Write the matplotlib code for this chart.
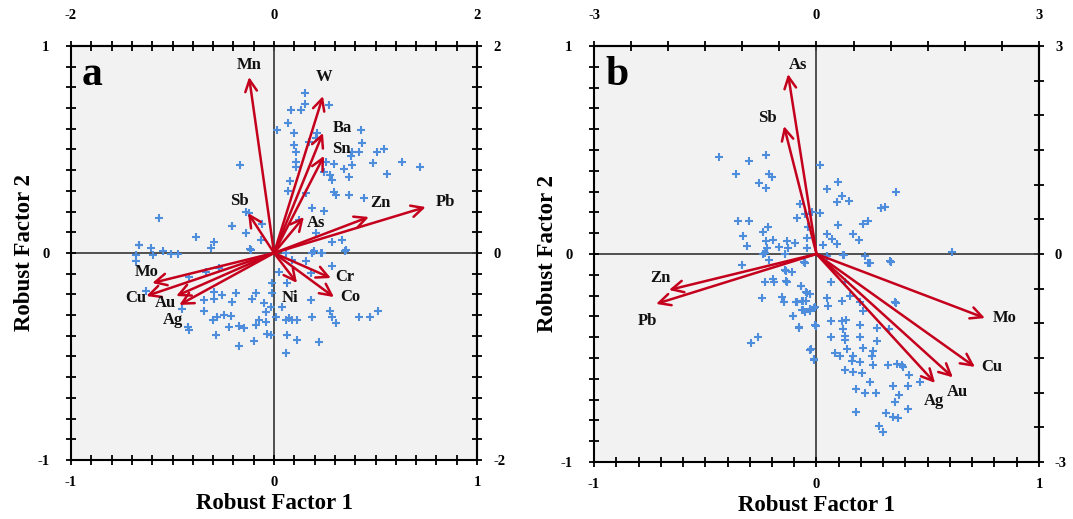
import matplotlib
matplotlib.use("Agg")
import matplotlib.pyplot as plt
from matplotlib.ticker import MultipleLocator

plt.rcParams['font.family'] = ['Liberation Serif', 'DejaVu Serif']
plt.rcParams['font.weight'] = 'bold'

# ---------------- Panel a data ----------------
a_elements = ["Mn", "W", "Ba", "Sn", "Zn", "Pb", "As", "Sb", "Mo", "Cu", "Au", "Ag", "Cr", "Co", "Ni"]
a_load_x = [-0.123, 0.241, 0.241, 0.246, 0.467, 0.747, 0.147, -0.128, -0.600, -0.629, -0.482, -0.467, 0.280, 0.295, 0.113]
a_load_y = [0.850, 0.758, 0.580, 0.469, 0.174, 0.222, 0.174, 0.193, -0.145, -0.208, -0.208, -0.251, -0.121, -0.213, -0.145]

a_score_x = [0.152, 0.152, 0.082, 0.131, 0.270, 0.069, 0.013, 0.098, 0.213, 0.205, 0.172, 0.098, 0.106,
             0.426, 0.431, 0.418, 0.385, 0.377, 0.508, 0.544, 0.631, 0.721, 0.486, 0.557, 0.385, 0.344,
             0.295, 0.254, 0.106, 0.106, 0.246, 0.278, 0.287, 0.369, 0.295, 0.303, 0.369, 0.442, 0.156,
             0.188, 0.246, 0.123, 0.205, 0.287, 0.336, 0.349, 0.197, 0.237, -0.169, -0.205, -0.139, -0.065,
             -0.057, -0.139, -0.123, -0.295, -0.311, -0.115, 0.057, -0.568, -0.385, -0.208, -0.120, -0.667,
             -0.606, -0.549, -0.663, -0.680, -0.598, -0.508, -0.475, -0.680, -0.631, -0.451, -0.426, -0.418,
             -0.344, -0.344, -0.295, -0.295, -0.254, -0.188, -0.205, -0.279, -0.246, -0.213, -0.303, -0.221,
             -0.172, -0.147, -0.287, -0.172, -0.098, -0.090, -0.107, -0.049, -0.041, -0.074, -0.041, -0.090,
             -0.033, -0.016, -0.008, -0.008, -0.016, -0.418, -0.336, -0.270, 0.025, 0.066, 0.090, 0.156,
             0.180, 0.287, 0.180, 0.278, 0.303, 0.287, 0.188, 0.074, 0.090, 0.057, 0.115, 0.418, 0.475,
             0.513, 0.066, 0.115, 0.221, 0.057, 0.041, 0.008, 0.188, 0.230, 0.352, 0.070, 0.080]
a_score_y = [0.771, 0.720, 0.691, 0.691, 0.715, 0.630, 0.594, 0.581, 0.578, 0.554, 0.538, 0.522, 0.489,
             0.594, 0.533, 0.489, 0.489, 0.469, 0.489, 0.501, 0.441, 0.414, 0.433, 0.382, 0.425, 0.404,
             0.430, 0.441, 0.441, 0.414, 0.393, 0.377, 0.353, 0.366, 0.296, 0.280, 0.280, 0.264, 0.288,
             0.216, 0.204, 0.159, 0.095, 0.055, 0.063, 0.011, 0.011, 0.001, 0.425, 0.132, 0.095, 0.063,
             0.140, 0.200, 0.192, 0.055, 0.023, 0.014, -0.002, 0.171, 0.076, 0.130, 0.018, 0.039,
             0.023, 0.011, 0.039, -0.010, -0.010, -0.005, -0.005, -0.037, -0.182, -0.272, -0.359, -0.372,
             -0.227, -0.279, -0.187, -0.224, -0.203, -0.195, -0.235, -0.308, -0.300, -0.304, -0.324, -0.359,
             -0.353, -0.364, -0.396, -0.449, -0.424, -0.195, -0.224, -0.243, -0.284, -0.324, -0.332, -0.348,
             -0.391, -0.396, -0.146, -0.195, -0.259, -0.114, -0.090, -0.074, -0.090, -0.146, -0.034, -0.037,
             -0.098, -0.063, -0.227, -0.279, -0.340, -0.311, -0.311, -0.316, -0.324, -0.324, -0.324, -0.311, -0.311,
             -0.279, -0.396, -0.420, -0.428, -0.482, -0.259, -0.308, 0.001, 0.001, 0.014, 0.300, 0.350]

# ---------------- Panel b data ----------------
b_elements = ["As", "Sb", "Zn", "Pb", "Mo", "Cu", "Au", "Ag"]
b_load_x = [-0.128, -0.146, -0.663, -0.721, 0.757, 0.712, 0.613, 0.533]
b_load_y = [0.865, 0.615, -0.173, -0.240, -0.308, -0.543, -0.593, -0.620]

b_score_x = [-0.437, -0.305, -0.227, -0.362, -0.212, -0.201, -0.257, -0.227, 0.016, 0.098, 0.046, 0.113,
             0.091, 0.147, 0.357, 0.288, 0.308, -0.074, -0.354, -0.305, -0.217, -0.242, -0.329, -0.314,
             -0.086, -0.052, -0.022, 0.016, -0.037, 0.095, 0.210, 0.233, 0.163, 0.192, 0.049, 0.068,
             0.091, 0.031, -0.227, -0.197, -0.221, -0.167, -0.134, -0.127, -0.097, -0.044, -0.044, 0.608,
             -0.239, -0.142, -0.336, -0.231, -0.212, -0.142, -0.111, -0.231, -0.197, -0.190, -0.137, -0.246,
             -0.156, -0.146, -0.070, -0.047, -0.029, -0.092, -0.067, -0.047, -0.067, -0.052, -0.029, -0.007,
             -0.104, -0.077, -0.007, -0.029, -0.010, -0.296, -0.262, -0.056, -0.052, -0.137, -0.134, -0.071,
             -0.044, -0.089, -0.059, -0.062, -0.029, -0.011, -0.107, -0.077, -0.002, -0.026, -0.011, 0.064,
             0.128, 0.049, 0.053, 0.113, 0.151, 0.196, 0.210, 0.353, 0.064, 0.113, 0.133, 0.120, 0.128,
             0.196, 0.270, 0.327, 0.064, 0.128, 0.196, 0.270, 0.136, 0.208, 0.253, 0.083, 0.106, 0.163,
             0.248, 0.158, 0.196, 0.253, 0.128, 0.166, 0.203, 0.323, 0.360, 0.383, 0.390, 0.417, 0.465,
             0.240, 0.178, 0.218, 0.267, 0.342, 0.413, 0.372, 0.353, 0.413, 0.178, 0.312, 0.342, 0.368,
             0.282, 0.298, 0.120, 0.218, 0.240, 0.330, 0.046, 0.357, 0.124, 0.233, 0.333]
b_score_y = [0.465, 0.446, 0.478, 0.385, 0.385, 0.369, 0.340, 0.316, 0.428, 0.345, 0.313, 0.277,
             0.248, 0.255, 0.297, 0.221, 0.224, 0.240, 0.160, 0.157, 0.131, 0.104, 0.088, 0.040,
             0.171, 0.192, 0.200, 0.197, 0.128, 0.141, 0.144, 0.160, 0.096, 0.069, 0.096, 0.072,
             0.048, 0.043, 0.064, 0.069, 0.027, 0.032, 0.064, 0.027, 0.053, 0.077, 0.027, 0.011,
             0.000, 0.000, -0.053, 0.005, -0.027, -0.075, -0.085, -0.133, -0.120, -0.136, -0.128, -0.213,
             -0.208, -0.232, -0.155, -0.184, -0.192, -0.229, -0.224, -0.224, -0.269, -0.280, -0.264, -0.256,
             -0.300, -0.352, -0.341, -0.460, -0.508, -0.429, -0.400, -0.040, -0.043, -0.080, -0.133, -0.155,
             -0.188, -0.232, -0.224, -0.268, -0.272, -0.261, -0.300, -0.356, -0.345, -0.457, -0.505, -0.133,
             -0.136, -0.213, -0.248, -0.224, -0.203, -0.232, -0.272, -0.232, -0.320, -0.320, -0.316, -0.361, -0.396,
             -0.341, -0.357, -0.361, -0.401, -0.412, -0.401, -0.417, -0.457, -0.453, -0.465, -0.476, -0.489, -0.492,
             -0.489, -0.513, -0.521, -0.534, -0.556, -0.566, -0.572, -0.534, -0.529, -0.534, -0.545, -0.582, -0.617,
             -0.617, -0.649, -0.668, -0.668, -0.636, -0.633, -0.678, -0.713, -0.745, -0.761, -0.764, -0.785, -0.790,
             -0.825, -0.857, -0.005, -0.008, -0.043, -0.032, -0.008, -0.236, -0.005, -0.043, -0.037]

# label offsets (pixels) relative to arrow tips
a_offsets = {"Mn": (0, 12), "W": (1, 19), "Ba": (19, 5), "Sn": (17, 7), "Zn": (12, 14), "Pb": (20, 5),
             "As": (12, -6), "Sb": (-9, 12), "Mo": (-6, 11), "Cu": (-11, -2), "Au": (-11, -7),
             "Ag": (-6, -15), "Cr": (14, 1), "Co": (16, 0), "Ni": (-7, -15)}
b_offsets = {"As": (10, 9), "Sb": (-17, 8), "Zn": (-9, 12), "Pb": (-9, -17), "Mo": (20, 0),
             "Cu": (17, 0), "Au": (5, -15), "Ag": (-1, -18)}

ARROW = '#c4001c'
PT = '#4d8ddc'
BG = '#f2f2f2'

fig = plt.figure(figsize=(10.73, 5.19), dpi=100)
ax_a = fig.add_axes([0.0662, 0.1137, 0.3784, 0.7977])
ax_b = fig.add_axes([0.5536, 0.1098, 0.4147, 0.8016])


def style(ax, sec, letter, lx, ly, lelems, offsets, sx, sy, bminor):
    ax.set_facecolor(BG)
    ax.set_xlim(-1, 1)
    ax.set_ylim(-1, 1)
    ax.axhline(0, color='#444444', lw=1.3, zorder=1)
    ax.axvline(0, color='#444444', lw=1.3, zorder=1)
    ax.scatter(sx, sy, marker='+', s=34, color=PT, linewidths=1.5, zorder=2)
    for name, x, y in zip(lelems, lx, ly):
        ax.annotate('', xy=(x, y), xytext=(0, 0),
                    arrowprops=dict(arrowstyle='->,head_length=0.6,head_width=0.3',
                                    color=ARROW, lw=1.8, shrinkA=0, shrinkB=0,
                                    mutation_scale=14), zorder=3)
        dx, dy = offsets[name]
        ax.annotate(name, xy=(x, y), xytext=(dx, dy), textcoords='offset pixels',
                    ha='center', va='center', fontsize=12, fontweight='bold',
                    color='#111111', zorder=4)
    ax.text(0.025, 0.975, letter, transform=ax.transAxes, ha='left', va='top',
            fontsize=30, fontweight='bold', color='black')
    for s in ax.spines.values():
        s.set_linewidth(1.5)
    ax.set_xticks([-1, 0, 1], labels=['-1', '0', '1'])
    ax.set_yticks([-1, 0, 1], labels=['-1', '0', '1'])
    ax.xaxis.set_minor_locator(MultipleLocator(0.1))
    ax.yaxis.set_minor_locator(MultipleLocator(0.1))
    ax.tick_params(which='both', direction='inout', length=7, width=1.3,
                   labelsize=10.5, pad=8)
    ax.tick_params(axis='y', pad=12)

    top = ax.secondary_xaxis('top', functions=(lambda v: v * sec, lambda v: v / sec))
    right = ax.secondary_yaxis('right', functions=(lambda v: v * sec, lambda v: v / sec))
    for sa in (top, right):
        sa.set_ticks([-sec, 0, sec], labels=[str(-sec), '0', str(sec)])
        sa.tick_params(which='both', direction='inout', length=7, width=1.3,
                       labelsize=10.5)
        sa.spines[:].set_linewidth(1.5)
    top.tick_params(pad=14)
    right.tick_params(pad=8)
    top.xaxis.set_minor_locator(MultipleLocator(bminor))
    right.yaxis.set_minor_locator(MultipleLocator(bminor))
    ax.set_xlabel('Robust Factor 1', fontsize=16.5, fontweight='bold', labelpad=3)
    ax.set_ylabel('Robust Factor 2', fontsize=16.5, fontweight='bold', labelpad=2)


style(ax_a, 2, 'a', a_load_x, a_load_y, a_elements, a_offsets, a_score_x, a_score_y, 0.2)
style(ax_b, 3, 'b', b_load_x, b_load_y, b_elements, b_offsets, b_score_x, b_score_y, 0.5)

fig.savefig('out.png', dpi=100)
